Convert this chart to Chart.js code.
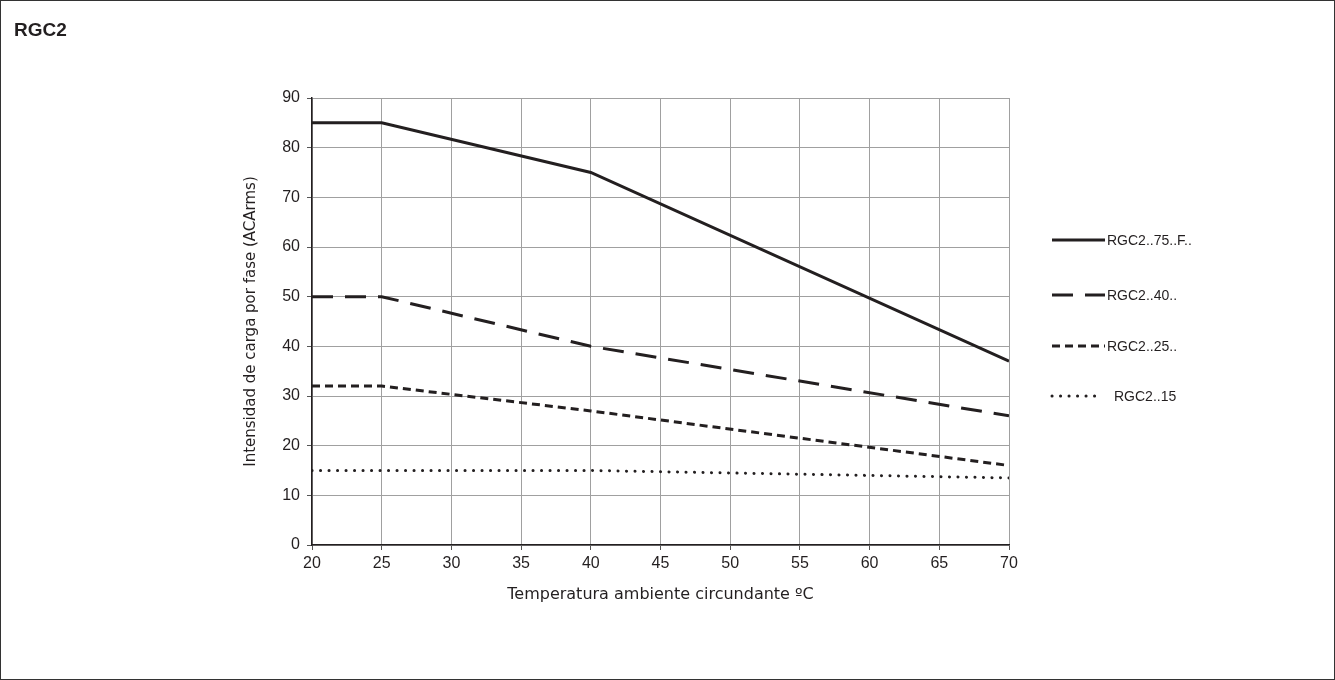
<!DOCTYPE html>
<html>
<head>
<meta charset="utf-8">
<script src="https://cdn.jsdelivr.net/npm/chart.js@4"></script>
<style>
  html, body { margin: 0; padding: 0; background: #fff; }
  #wrap { position: relative; width: 1333px; height: 678px; border: 1px solid #333; }
  canvas { display: block; }
</style>
</head>
<body>
<div id="wrap"><canvas id="chart" width="1333" height="678"></canvas></div>
<script>
// temperature points (ºC)
const temps = [20, 25, 40, 70];
// load current per phase (ACArms)
const rgc75 = [85, 85, 75, 37];
const rgc40 = [50, 50, 40, 26];
const rgc25 = [32, 32, 27, 16];
const rgc15 = [15, 15, 15, 13.5];
const seriesLabels = ["RGC2..75..F..", "RGC2..40..", "RGC2..25..", "RGC2..15"];

const FONT = "'Liberation Sans', Arial, sans-serif";
const TITLE_FONT = "'DejaVu Sans', Verdana, sans-serif";
const INK = "#231f20";

const toPoints = (vals) => vals.map((v, i) => ({ x: temps[i], y: v }));

// draws the title and the legend on the right side
const extras = {
  id: "extras",
  afterDraw(chart) {
    const ctx = chart.ctx;
    ctx.save();
    ctx.fillStyle = INK;
    ctx.font = "bold 19px " + FONT;
    ctx.textBaseline = "alphabetic";
    ctx.fillText("RGC2", 13, 35);

    const rows = [239, 294, 345, 395];
    chart.data.datasets.forEach((ds, i) => {
      const y = rows[i];
      ctx.beginPath();
      ctx.strokeStyle = ds.borderColor;
      ctx.lineWidth = ds.borderWidth;
      ctx.lineCap = ds.borderCapStyle || "butt";
      ctx.setLineDash(ds.borderDash || []);
      ctx.moveTo(1051, y);
      ctx.lineTo(ds.legendEnd, y);
      ctx.stroke();
      ctx.setLineDash([]);
      ctx.font = "14px " + FONT;
      ctx.textBaseline = "middle";
      ctx.fillText(ds.label, ds.legendText, y + 1);
    });
    ctx.restore();
  }
};

new Chart(document.getElementById("chart"), {
  type: "line",
  data: {
    datasets: [
      {
        label: seriesLabels[0],
        data: toPoints(rgc75),
        borderColor: INK,
        borderWidth: 3,
        legendEnd: 1104, legendText: 1106,
      },
      {
        label: seriesLabels[1],
        data: toPoints(rgc40),
        borderColor: INK,
        borderWidth: 3,
        borderDash: [21, 12],
        legendEnd: 1104, legendText: 1106,
      },
      {
        label: seriesLabels[2],
        data: toPoints(rgc25),
        borderColor: INK,
        borderWidth: 3,
        borderDash: [8, 5],
        legendEnd: 1104, legendText: 1106,
      },
      {
        label: seriesLabels[3],
        data: toPoints(rgc15),
        borderColor: INK,
        borderWidth: 3,
        borderDash: [0.1, 8.4],
        borderCapStyle: "round",
        legendEnd: 1095, legendText: 1113,
      },
    ],
  },
  options: {
    responsive: false,
    animation: false,
    layout: { padding: { left: 241, top: 97, right: 325, bottom: 75 } },
    elements: {
      point: { radius: 0, hoverRadius: 0 },
      line: { tension: 0, fill: false },
    },
    plugins: {
      legend: { display: false },
      tooltip: { enabled: false },
    },
    scales: {
      x: {
        type: "linear",
        min: 20,
        max: 70,
        afterFit: (s) => { s.height = 59; },
        ticks: { stepSize: 5, color: INK, font: { family: FONT, size: 16 }, padding: 4 },
        grid: { color: "#a0a0a0", lineWidth: 1, tickLength: 5, tickColor: "#555" },
        border: { color: INK, width: 1.5 },
        title: {
          display: true,
          text: "Temperatura ambiente circundante ºC",
          color: INK,
          font: { family: TITLE_FONT, size: 16 },
          padding: { top: 0, bottom: 0 },
        },
      },
      y: {
        min: 0,
        max: 90,
        afterFit: (s) => { s.width = 70; },
        ticks: { stepSize: 10, color: INK, font: { family: FONT, size: 16 }, padding: 7 },
        grid: { color: "#a0a0a0", lineWidth: 1, tickLength: 5, tickColor: "#555" },
        border: { color: INK, width: 1.5 },
        title: {
          display: true,
          text: "Intensidad de carga por fase (ACArms)",
          color: INK,
          font: { family: TITLE_FONT, size: 15 },
          padding: { top: 0, bottom: 0 },
        },
      },
    },
  },
  plugins: [extras],
});
</script>
</body>
</html>
